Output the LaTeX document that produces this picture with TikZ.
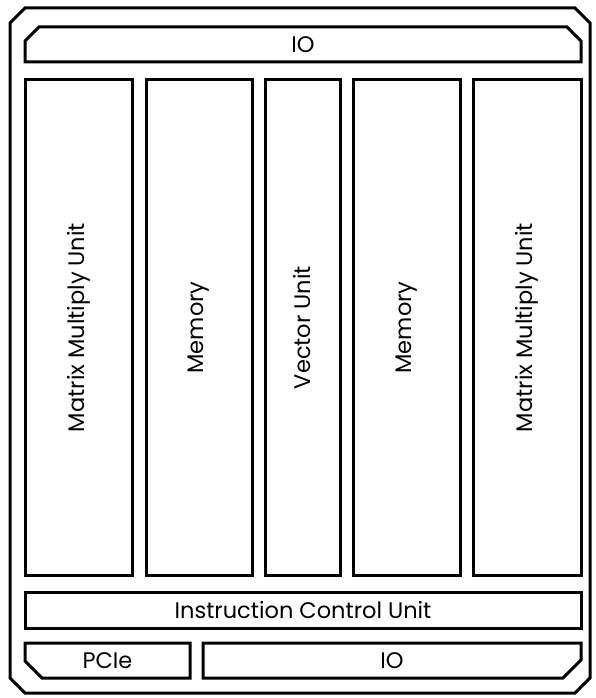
\documentclass[tikz,border=0pt]{standalone}
\usepackage{fontspec}
\setmainfont{Poppins}
\begin{document}
\begin{tikzpicture}[x=1pt,y=-1pt,line width=3pt,line join=miter,
  lbl/.style={font=\fontsize{22.5}{22.5}\selectfont,inner sep=0pt},
  vlbl/.style={lbl,rotate=90}]
\useasboundingbox (0,0) rectangle (596,698);
% outer chip frame
\draw (25,8) -- (575,8) -- (590,23) -- (590,678) -- (575,693) -- (25,693) -- (10,678) -- (10,23) -- cycle;
% top IO strip
\draw (39,27) -- (567,27) -- (581,41) -- (581,62) -- (25,62) -- (25,41) -- cycle;
\node[lbl] (iotop) at (303,44.5) {IO};
% columns
\draw (25,80) rectangle (132,575);
\draw (146,80) rectangle (252,575);
\draw (265,80) rectangle (340,575);
\draw (353,80) rectangle (460,575);
\draw (473,80) rectangle (581,575);
\node[vlbl] (mmu1) at (78.5,327.5) {Matrix Multiply Unit};
\node[vlbl] (mem1) at (199,327.5) {Memory};
\node[vlbl] (vec) at (302.5,327.5) {Vector Unit};
\node[vlbl] (mem2) at (406.5,327.5) {Memory};
\node[vlbl] (mmu2) at (527,327.5) {Matrix Multiply Unit};
% instruction control unit
\draw (25,592) rectangle (581,628);
\node[lbl] (icu) at (303,610) {Instruction Control Unit};
% bottom row
\draw (25,643) -- (190,643) -- (190,678) -- (42,678) -- (25,661) -- cycle;
\node[lbl] (pcie) at (107.5,660.5) {PCIe};
\draw (203,643) -- (581,643) -- (581,660) -- (563,678) -- (203,678) -- cycle;
\node[lbl] (iobot) at (392,660.5) {IO};
\end{tikzpicture}
\end{document}
